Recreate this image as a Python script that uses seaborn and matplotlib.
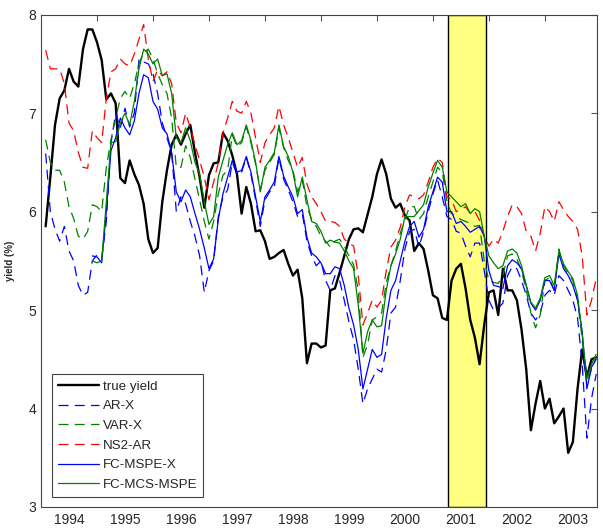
import matplotlib
matplotlib.use("Agg")
import matplotlib.pyplot as plt
import seaborn as sns
import numpy as np
import pandas as pd

# monthly observations, Feb 1994 - Dec 2003
months = pd.period_range("1994-02", "2003-12", freq="M")

true_yield = [
    5.85, 6.35, 6.88, 7.15, 7.23, 7.45, 7.32, 7.27, 7.65, 7.85, 7.85, 7.72, 7.54, 7.14, 7.20, 7.10, 6.34, 6.29, 6.52, 6.38,
    6.27, 6.08, 5.72, 5.58, 5.63, 6.10, 6.42, 6.68, 6.78, 6.68, 6.79, 6.88, 6.60, 6.35, 6.04, 6.37, 6.49, 6.50, 6.80, 6.72,
    6.57, 6.38, 5.98, 6.25, 6.08, 5.80, 5.81, 5.70, 5.52, 5.54, 5.58, 5.61, 5.47, 5.35, 5.41, 5.12, 4.46, 4.66, 4.66, 4.62,
    4.64, 5.20, 5.22, 5.38, 5.55, 5.72, 5.82, 5.83, 5.79, 5.97, 6.15, 6.38, 6.53, 6.38, 6.13, 6.04, 6.08, 5.96, 5.91, 5.60,
    5.68, 5.62, 5.40, 5.15, 5.12, 4.92, 4.90, 5.30, 5.42, 5.47, 5.22, 4.90, 4.72, 4.45, 4.85, 5.18, 5.20, 4.95, 5.42,
    5.20, 5.20, 5.10, 4.80, 4.40, 3.78, 4.05, 4.28, 4.00, 4.10, 3.85, 3.92, 4.00, 3.55, 3.66, 4.20, 4.60, 4.32, 4.50, 4.52,
]

ar_x = [
    6.59, 6.00, 5.82, 5.70, 5.85, 5.60, 5.50, 5.25, 5.15, 5.18, 5.50, 5.56, 5.52, 5.90, 6.70, 7.00, 6.85, 7.05, 6.86, 7.00,
    7.55, 7.52, 7.50, 7.40, 7.20, 6.90, 6.75, 6.60, 6.00, 6.15, 6.08, 5.90, 5.75, 5.55, 5.18, 5.40, 5.50, 5.95, 6.15, 6.22,
    6.50, 6.38, 6.40, 6.55, 6.38, 6.12, 5.85, 6.12, 6.20, 6.25, 6.55, 6.33, 6.22, 6.10, 5.95, 5.98, 5.70, 5.55, 5.45, 5.50,
    5.30, 5.20, 5.35, 5.30, 5.10, 4.88, 4.70, 4.40, 4.05, 4.20, 4.30, 4.40, 4.37, 4.60, 4.97, 5.03, 5.30, 5.62, 5.80, 5.82,
    5.64, 5.80, 6.00, 6.18, 6.32, 6.15, 5.95, 5.92, 5.80, 5.78, 5.65, 5.54, 5.68, 5.68, 5.40, 5.10, 5.00, 5.02, 5.07,
    5.35, 5.44, 5.42, 5.30, 5.15, 4.97, 4.90, 4.97, 5.15, 5.20, 5.15, 5.35, 5.30, 5.20, 5.10, 4.92, 4.45, 3.70, 4.10, 4.35,
]

var_x = [
    6.73, 6.50, 6.42, 6.42, 6.30, 6.05, 5.93, 5.75, 5.72, 5.80, 6.07, 6.05, 6.00, 6.45, 6.73, 6.95, 7.15, 7.22, 7.15, 7.30,
    7.50, 7.62, 7.65, 7.55, 7.40, 7.29, 7.20, 6.95, 6.45, 6.45, 6.67, 6.55, 6.33, 6.12, 5.90, 5.72, 5.90, 6.18, 6.37, 6.42,
    6.78, 6.66, 6.70, 6.86, 6.70, 6.48, 6.22, 6.42, 6.50, 6.58, 6.85, 6.65, 6.52, 6.42, 6.20, 6.32, 6.05, 5.92, 5.85, 5.75,
    5.70, 5.64, 5.70, 5.72, 5.65, 5.55, 5.46, 5.20, 4.52, 4.65, 4.90, 4.93, 4.97, 5.28, 5.45, 5.60, 5.78, 5.92, 6.05, 6.05,
    5.92, 5.98, 6.15, 6.30, 6.45, 6.40, 6.10, 5.98, 5.95, 5.92, 5.90, 5.88, 5.85, 5.86, 5.50, 5.30, 5.28, 5.27, 5.35,
    5.55, 5.57, 5.52, 5.40, 5.20, 4.97, 4.82, 4.95, 5.30, 5.33, 5.20, 5.62, 5.45, 5.37, 5.30, 5.10, 4.70, 4.25, 4.40, 4.52,
]

ns2_ar = [
    7.64, 7.45, 7.45, 7.45, 7.30, 6.90, 6.82, 6.60, 6.45, 6.44, 6.82, 6.75, 6.70, 7.15, 7.42, 7.45, 7.55, 7.50, 7.48, 7.60,
    7.75, 7.90, 7.55, 7.32, 7.44, 7.38, 7.42, 7.30, 6.90, 6.80, 7.00, 6.85, 6.68, 6.52, 6.35, 6.12, 6.30, 6.50, 6.80, 6.95,
    7.12, 7.02, 7.00, 7.12, 7.00, 6.75, 6.50, 6.70, 6.78, 6.85, 7.07, 6.88, 6.75, 6.60, 6.45, 6.55, 6.28, 6.15, 6.08, 6.00,
    5.90, 5.90, 5.89, 5.85, 5.72, 5.68, 5.65, 5.35, 4.85, 4.97, 5.10, 5.03, 5.10, 5.40, 5.64, 5.71, 5.84, 6.05, 6.17, 6.15,
    6.13, 6.17, 6.30, 6.45, 6.54, 6.50, 6.15, 6.12, 6.00, 6.02, 6.05, 5.98, 6.00, 5.91, 5.75, 5.65, 5.72, 5.68, 5.80,
    5.95, 6.07, 6.05, 5.98, 5.80, 5.75, 5.60, 5.78, 6.05, 6.00, 5.90, 6.10, 6.02, 5.95, 5.90, 5.82, 5.55, 4.95, 5.10, 5.32,
]

nan = np.nan
fc_mspe_x = [
    nan, nan, nan, nan, nan, nan, nan, nan, nan, nan, 5.55, 5.54, 5.48, 6.00, 6.62, 6.75, 6.95, 6.85, 6.78, 6.92,
    7.20, 7.39, 7.36, 7.12, 7.04, 6.85, 6.79, 6.60, 6.20, 6.10, 6.22, 6.15, 5.98, 5.82, 5.63, 5.42, 5.52, 5.92, 6.18, 6.35,
    6.52, 6.40, 6.42, 6.56, 6.40, 6.15, 5.90, 6.15, 6.22, 6.30, 6.56, 6.36, 6.25, 6.15, 5.98, 6.02, 5.74, 5.58, 5.54, 5.48,
    5.37, 5.37, 5.44, 5.42, 5.25, 5.02, 4.85, 4.60, 4.20, 4.40, 4.60, 4.52, 4.55, 4.92, 5.20, 5.30, 5.50, 5.70, 5.85, 5.90,
    5.74, 5.82, 6.05, 6.20, 6.35, 6.30, 6.00, 6.00, 5.88, 5.90, 5.85, 5.79, 5.82, 5.85, 5.75, 5.40, 5.25, 5.24, 5.22,
    5.45, 5.51, 5.48, 5.42, 5.25, 5.07, 5.00, 5.10, 5.30, 5.30, 5.20, 5.57, 5.42, 5.35, 5.25, 5.10, 4.78, 4.20, 4.42, 4.50,
]

fc_mcs_mspe = [
    nan, nan, nan, nan, nan, nan, nan, nan, nan, nan, 5.50, 5.48, 5.50, 6.10, 6.70, 6.71, 6.90, 7.00, 6.88, 7.12,
    7.45, 7.65, 7.60, 7.50, 7.55, 7.38, 7.40, 7.20, 6.75, 6.70, 6.85, 6.72, 6.50, 6.38, 6.10, 5.87, 5.95, 6.35, 6.52, 6.68,
    6.80, 6.68, 6.72, 6.88, 6.72, 6.50, 6.20, 6.45, 6.52, 6.60, 6.88, 6.66, 6.56, 6.40, 6.15, 6.35, 6.12, 5.90, 5.88, 5.80,
    5.68, 5.71, 5.69, 5.68, 5.60, 5.50, 5.42, 5.05, 4.56, 4.78, 4.90, 4.83, 4.84, 5.20, 5.45, 5.57, 5.72, 5.95, 5.95, 5.95,
    6.01, 6.07, 6.25, 6.39, 6.52, 6.45, 6.20, 6.15, 6.10, 6.05, 6.08, 5.98, 6.03, 6.00, 5.75, 5.55, 5.48, 5.42, 5.45,
    5.60, 5.62, 5.58, 5.45, 5.25, 5.08, 5.02, 5.12, 5.33, 5.35, 5.25, 5.60, 5.47, 5.39, 5.32, 5.15, 4.75, 4.30, 4.45, 4.55,
]

years = list(range(1994, 2004))
recession = (2001.27, 2001.94)

df = pd.DataFrame({
    "t": months.year + (months.month - 1) / 12.0,
    "true yield": true_yield,
    "AR-X": ar_x,
    "VAR-X": var_x,
    "NS2-AR": ns2_ar,
    "FC-MSPE-X": fc_mspe_x,
    "FC-MCS-MSPE": fc_mcs_mspe,
})

sns.set_style("white")
plt.rcParams["font.family"] = ["Liberation Sans", "DejaVu Sans"]

fig = plt.figure(figsize=(6.03, 5.30), dpi=100)
ax = fig.add_axes([0.068, 0.0434, 0.9215, 0.9289])

ax.axvspan(*recession, facecolor="#ffff80", edgecolor="black", linewidth=1.0, zorder=0)

dash = (0, (8, 5))
styles = [
    ("true yield", "black", "-", 1.7),
    ("AR-X", "blue", dash, 0.9),
    ("VAR-X", "green", dash, 0.9),
    ("NS2-AR", "red", dash, 0.9),
    ("FC-MSPE-X", "blue", "-", 0.9),
    ("FC-MCS-MSPE", "green", "-", 0.9),
]
for name, color, ls, lw in styles:
    sns.lineplot(data=df, x="t", y=name, ax=ax, color=color, linestyle=ls,
                 linewidth=lw, label=name, errorbar=None, zorder=2)

ax.set_xlim(1994.0, 2003.925)
ax.set_ylim(3, 8)
ax.set_xlabel("")
ax.set_ylabel("yield (%)", fontsize=7, fontweight="bold")
ax.yaxis.set_label_coords(-0.047, 0.5)

ax.set_yticks([3, 4, 5, 6, 7, 8])
ax.set_xticks(years[1:])
ax.set_xticklabels([])
ax.set_xticks([y + 0.5 for y in years], minor=True)
ax.set_xticklabels([str(y) for y in years], minor=True)
ax.tick_params(which="major", direction="in", length=4, width=0.8, color="#555555",
               top=True, right=True, labelsize=10)
ax.tick_params(axis="x", which="minor", length=0, labelsize=10, pad=4)
for s in ax.spines.values():
    s.set_color("#444444")
    s.set_linewidth(0.8)

leg = ax.legend(loc="lower left", bbox_to_anchor=(0.02, 0.02), borderaxespad=0,
                fontsize=9.6, handlelength=3.1, labelspacing=0.55, handletextpad=0.25,
                borderpad=0.45, fancybox=False, framealpha=1)
leg.get_frame().set_edgecolor("#444444")
leg.get_frame().set_linewidth(0.8)

fig.savefig("out.png", dpi=100)
